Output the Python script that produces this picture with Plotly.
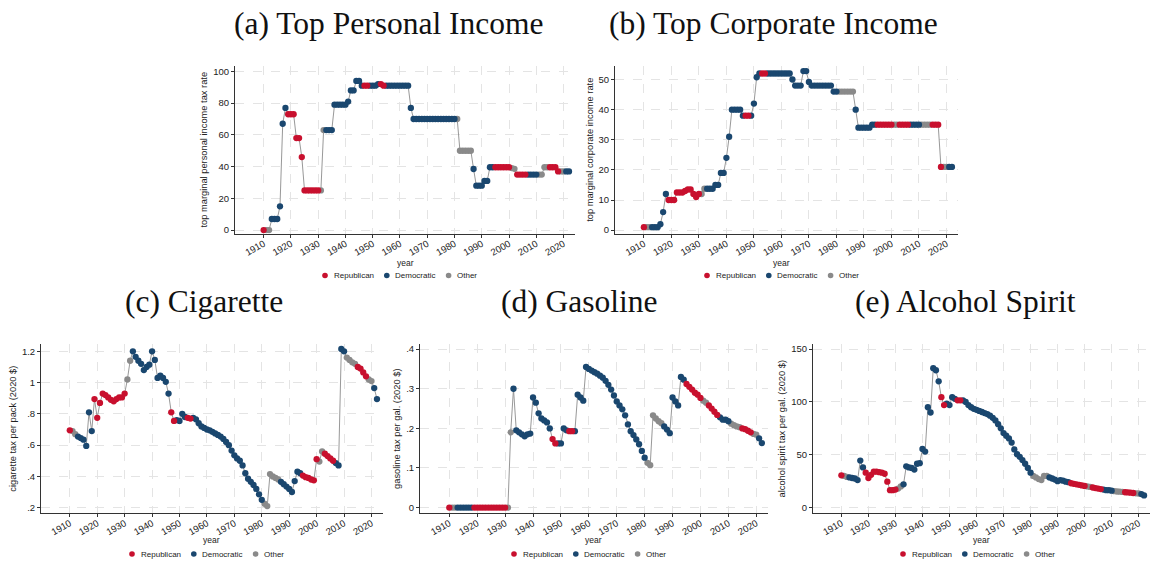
import plotly.graph_objects as go

W, H = 1151, 567

# ---------------------------------------------------------------- data
YEARS = list(range(1910, 2023))

# Party controlling Congress in each year (R = Republican, D = Democratic, O = other/split)
PARTY = (
    "ROODDDDDDR"   # 1910s
    "RRRRRRRRRR"   # 1920s
    "ROODDDDDDD"   # 1930s
    "DDDDDDDRRD"   # 1940s
    "DDDRRDDDDD"   # 1950s
    "DDDDDDDDDD"   # 1960s
    "DDDDDDDDDD"   # 1970s
    "DOOOOOODDD"   # 1980s
    "DDDDDRRRRR"   # 1990s
    "ROORRRRDDD"   # 2000s
    "DOOOORRRRO"   # 2010s
    "ODD"          # 2020s
)

PERSONAL = [
    0, 0, 0, 7, 7, 7, 15, 67, 77, 73,
    73, 73, 58, 58, 46, 25, 25, 25, 25, 25,
    25, 25, 63, 63, 63, 63, 79, 79, 79, 79,
    79, 81, 88, 88, 94, 94, 91, 91, 91, 91,
    91, 91, 92, 92, 91, 91, 91, 91, 91, 91,
    91, 91, 91, 91, 77, 70, 70, 70, 70, 70,
    70, 70, 70, 70, 70, 70, 70, 70, 70, 70,
    70, 70, 50, 50, 50, 50, 50, 38.5, 28, 28,
    28, 31, 31, 39.6, 39.6, 39.6, 39.6, 39.6, 39.6, 39.6,
    39.6, 39.1, 38.6, 35, 35, 35, 35, 35, 35, 35,
    35, 35, 35, 39.6, 39.6, 39.6, 39.6, 39.6, 37, 37,
    37, 37, 37,
]

CORPORATE = [
    1, 1, 1, 1, 1, 1, 2, 6, 12, 10,
    10, 10, 12.5, 12.5, 12.5, 13, 13.5, 13.5, 12, 11,
    12, 12, 13.75, 13.75, 13.75, 13.75, 15, 15, 19, 19,
    24, 31, 40, 40, 40, 40, 38, 38, 38, 38,
    42, 50.75, 52, 52, 52, 52, 52, 52, 52, 52,
    52, 52, 52, 52, 50, 48, 48, 48, 52.8, 52.8,
    49.2, 48, 48, 48, 48, 48, 48, 48, 48, 46,
    46, 46, 46, 46, 46, 46, 46, 40, 34, 34,
    34, 34, 34, 35, 35, 35, 35, 35, 35, 35,
    35, 35, 35, 35, 35, 35, 35, 35, 35, 35,
    35, 35, 35, 35, 35, 35, 35, 35, 21, 21,
    21, 21, 21,
]

CIGARETTE = [
    0.695, 0.69, 0.67, 0.655, 0.645, 0.635, 0.595, 0.81, 0.69, 0.895,
    0.775, 0.87, 0.93, 0.92, 0.905, 0.89, 0.88, 0.895, 0.905, 0.905,
    0.93, 1.02, 1.14, 1.20, 1.165, 1.14, 1.12, 1.08, 1.10, 1.115,
    1.20, 1.145, 1.03, 1.045, 1.03, 1.005, 0.93, 0.81, 0.755, 0.76,
    0.755, 0.80, 0.78, 0.775, 0.77, 0.775, 0.765, 0.74, 0.72, 0.71,
    0.70, 0.695, 0.685, 0.675, 0.665, 0.655, 0.64, 0.62, 0.60, 0.565,
    0.535, 0.515, 0.50, 0.47, 0.42, 0.385, 0.365, 0.345, 0.32, 0.285,
    0.25, 0.225, 0.21, 0.415, 0.40, 0.39, 0.38, 0.365, 0.35, 0.335,
    0.32, 0.30, 0.37, 0.43, 0.42, 0.405, 0.395, 0.39, 0.38, 0.375,
    0.51, 0.495, 0.56, 0.545, 0.53, 0.515, 0.50, 0.485, 0.47, 1.215,
    1.20, 1.16, 1.145, 1.13, 1.12, 1.10, 1.09, 1.065, 1.04, 1.02,
    1.01, 0.965, 0.895,
]

GASOLINE = [
    0, 0, 0, 0, 0, 0, 0, 0, 0, 0,
    0, 0, 0, 0, 0, 0, 0, 0, 0, 0,
    0, 0, 0.19, 0.30, 0.195, 0.19, 0.185, 0.18, 0.185, 0.187,
    0.278, 0.265, 0.238, 0.225, 0.22, 0.215, 0.20, 0.173, 0.162, 0.162,
    0.162, 0.20, 0.195, 0.193, 0.193, 0.193, 0.285, 0.278, 0.27, 0.355,
    0.35, 0.346, 0.342, 0.338, 0.333, 0.328, 0.32, 0.31, 0.298, 0.283,
    0.268, 0.258, 0.248, 0.233, 0.21, 0.193, 0.183, 0.172, 0.16, 0.143,
    0.126, 0.113, 0.107, 0.233, 0.225, 0.218, 0.213, 0.205, 0.197, 0.188,
    0.278, 0.268, 0.258, 0.33, 0.323, 0.312, 0.305, 0.298, 0.29, 0.285,
    0.277, 0.27, 0.265, 0.258, 0.25, 0.242, 0.234, 0.228, 0.222, 0.222,
    0.218, 0.212, 0.208, 0.205, 0.203, 0.20, 0.198, 0.194, 0.19, 0.186,
    0.184, 0.175, 0.163,
]

ALCOHOL = [
    30.5, 30, 29, 28.5, 28, 27.5, 26, 44.5, 38, 33,
    28, 31, 34, 34, 33.5, 33, 32, 24.5, 16.5, 16.5,
    17, 18, 20, 22, 39, 38, 37.5, 36, 41.5, 42,
    55.5, 53, 95, 90, 132, 130, 119.5, 104.5, 97, 98.5,
    97, 104.5, 103, 101.5, 101.5, 101.5, 100, 97, 95, 93.5,
    92.5, 91.5, 90.5, 89.5, 88.5, 87, 85, 82.5, 79, 75,
    70.5, 68, 65.5, 61.5, 55, 50.5, 48, 45, 41.5, 37.5,
    33, 30, 28.5, 27, 26, 30, 30, 28.5, 27.5, 26.5,
    25, 26, 25.5, 24.5, 24, 23, 22.5, 22, 21.5, 21,
    20.5, 20, 19.5, 19, 18.5, 18, 17.5, 17, 16.5, 16.5,
    16, 15.5, 15.2, 15, 14.8, 14.5, 14.3, 14.1, 13.8, 13.5,
    13.3, 12.8, 11.5,
]

DECADES = list(range(1910, 2030, 10))
PARTY_NAMES = {"R": "Republican", "D": "Democratic", "O": "Other"}

# ---------------------------------------------------------------- styling
COLORS = {"R": "#C8102E", "D": "#1A476F", "O": "#8A8A8A"}
LINE_COLOR = "#8C8C8C"
GRID_COLOR = "#E4E4E4"
AXIS_COLOR = "#333333"
TEXT_COLOR = "#222222"
SANS = "Liberation Sans, Arial, sans-serif"
SERIF = "Liberation Serif, Times New Roman, serif"


def px_x(v):
    return v / W


def px_y(v):
    return 1 - v / H


PANELS = [
    dict(title="(a) Top Personal Income", ytitle="top marginal personal income tax rate",
         values=PERSONAL, xpix=(235, 575), ypix=(65, 234), yrange=(-2.3, 103.6),
         ytickvals=[0, 20, 40, 60, 80, 100], yticktext=["0", "20", "40", "60", "80", "100"],
         title_xy=(389, 23), year_xy=(405, 263), legend_xy=(325, 276)),
    dict(title="(b) Top Corporate Income", ytitle="top marginal corporate income rate",
         values=CORPORATE, xpix=(615, 958), ypix=(65, 234), yrange=(-1.2, 54.6),
         ytickvals=[0, 10, 20, 30, 40, 50], yticktext=["0", "10", "20", "30", "40", "50"],
         title_xy=(773, 23), year_xy=(781, 263), legend_xy=(707, 276)),
    dict(title="(c) Cigarette", ytitle="cigarette tax per pack (2020 $)",
         values=CIGARETTE, xpix=(41, 383), ypix=(345, 515), yrange=(0.164, 1.246),
         ytickvals=[0.2, 0.4, 0.6, 0.8, 1.0, 1.2], yticktext=[".2", ".4", ".6", ".8", "1", "1.2"],
         title_xy=(204, 302), year_xy=(211, 542), legend_xy=(132, 556)),
    dict(title="(d) Gasoline", ytitle="gasoline tax per gal. (2020 $)",
         values=GASOLINE, xpix=(420, 768), ypix=(345, 515), yrange=(-0.0143, 0.4126),
         ytickvals=[0, 0.1, 0.2, 0.3, 0.4], yticktext=["0", ".1", ".2", ".3", ".4"],
         title_xy=(579, 302), year_xy=(593, 542), legend_xy=(514, 556)),
    dict(title="(e) Alcohol Spirit", ytitle="alcohol spirit tax per gal. (2020 $)",
         values=ALCOHOL, xpix=(813, 1150), ypix=(345, 515), yrange=(-5.4, 154.7),
         ytickvals=[0, 50, 100, 150], yticktext=["0", "50", "100", "150"],
         title_xy=(965, 302), year_xy=(981, 542), legend_xy=(903, 556)),
]

fig = go.Figure()
annotations = []
shapes = []
layout = {}

for i, p in enumerate(PANELS, start=1):
    xa = "x" if i == 1 else f"x{i}"
    ya = "y" if i == 1 else f"y{i}"
    vals = p["values"]

    # connecting line
    fig.add_trace(go.Scatter(
        x=YEARS, y=vals, mode="lines", xaxis=xa, yaxis=ya,
        line=dict(color=LINE_COLOR, width=0.9), showlegend=False, hoverinfo="skip"))

    # markers coloured by party control
    for code in ["O", "D", "R"]:
        xs = [yr for yr, c in zip(YEARS, PARTY) if c == code]
        ys = [v for v, c in zip(vals, PARTY) if c == code]
        fig.add_trace(go.Scatter(
            x=xs, y=ys, mode="markers", xaxis=xa, yaxis=ya, name=PARTY_NAMES[code],
            marker=dict(color=COLORS[code], size=6.3, line=dict(width=0)),
            showlegend=False))

    x0, x1 = p["xpix"]
    y0, y1 = p["ypix"]
    common = dict(
        showline=True, linecolor=AXIS_COLOR, linewidth=1,
        ticks="outside", ticklen=3, tickcolor=AXIS_COLOR, tickwidth=1,
        showgrid=True, gridcolor=GRID_COLOR, griddash="dash", gridwidth=1,
        zeroline=False, tickfont=dict(family=SANS, size=9.5, color=TEXT_COLOR),
    )
    layout["xaxis" if i == 1 else f"xaxis{i}"] = dict(
        domain=[px_x(x0), px_x(x1)], anchor=ya, range=[1899.5, 2024.2],
        tickmode="array", tickvals=DECADES, ticktext=[str(d) for d in DECADES],
        tickangle=-30, ticklabelstandoff=-3, **common)
    layout["yaxis" if i == 1 else f"yaxis{i}"] = dict(
        domain=[px_y(y1), px_y(y0)], anchor=xa, range=list(p["yrange"]),
        tickmode="array", tickvals=p["ytickvals"], ticktext=p["yticktext"],
        title=dict(text=p["ytitle"], font=dict(family=SANS, size=9.3, color=TEXT_COLOR), standoff=3),
        **common)

    # panel title
    tx, ty = p["title_xy"]
    annotations.append(dict(
        text=p["title"], x=px_x(tx), y=px_y(ty), xref="paper", yref="paper",
        xanchor="center", yanchor="middle", showarrow=False,
        font=dict(family=SERIF, size=31.5, color="#111111")))

    # x-axis title
    yx, yy = p["year_xy"]
    annotations.append(dict(
        text="year", x=px_x(yx), y=px_y(yy), xref="paper", yref="paper",
        xanchor="center", yanchor="middle", showarrow=False,
        font=dict(family=SANS, size=8.5, color=TEXT_COLOR)))

    # party key below each panel
    lx, ly = p["legend_xy"]
    r = 2.8
    for k, code in enumerate(["R", "D", "O"]):
        cx = lx + k * 61.8
        shapes.append(dict(
            type="circle", xref="paper", yref="paper",
            x0=px_x(cx - r), x1=px_x(cx + r), y0=px_y(ly + r), y1=px_y(ly - r),
            fillcolor=COLORS[code], line=dict(width=0)))
        annotations.append(dict(
            text=PARTY_NAMES[code], x=px_x(cx + 6.5), y=px_y(ly), xref="paper", yref="paper",
            xanchor="left", yanchor="middle", showarrow=False,
            font=dict(family=SANS, size=8, color=TEXT_COLOR)))

fig.update_layout(
    width=W, height=H, margin=dict(l=0, r=0, t=0, b=0),
    paper_bgcolor="white", plot_bgcolor="white",
    showlegend=False, annotations=annotations, shapes=shapes,
    **layout,
)

fig.write_html("out.html")
